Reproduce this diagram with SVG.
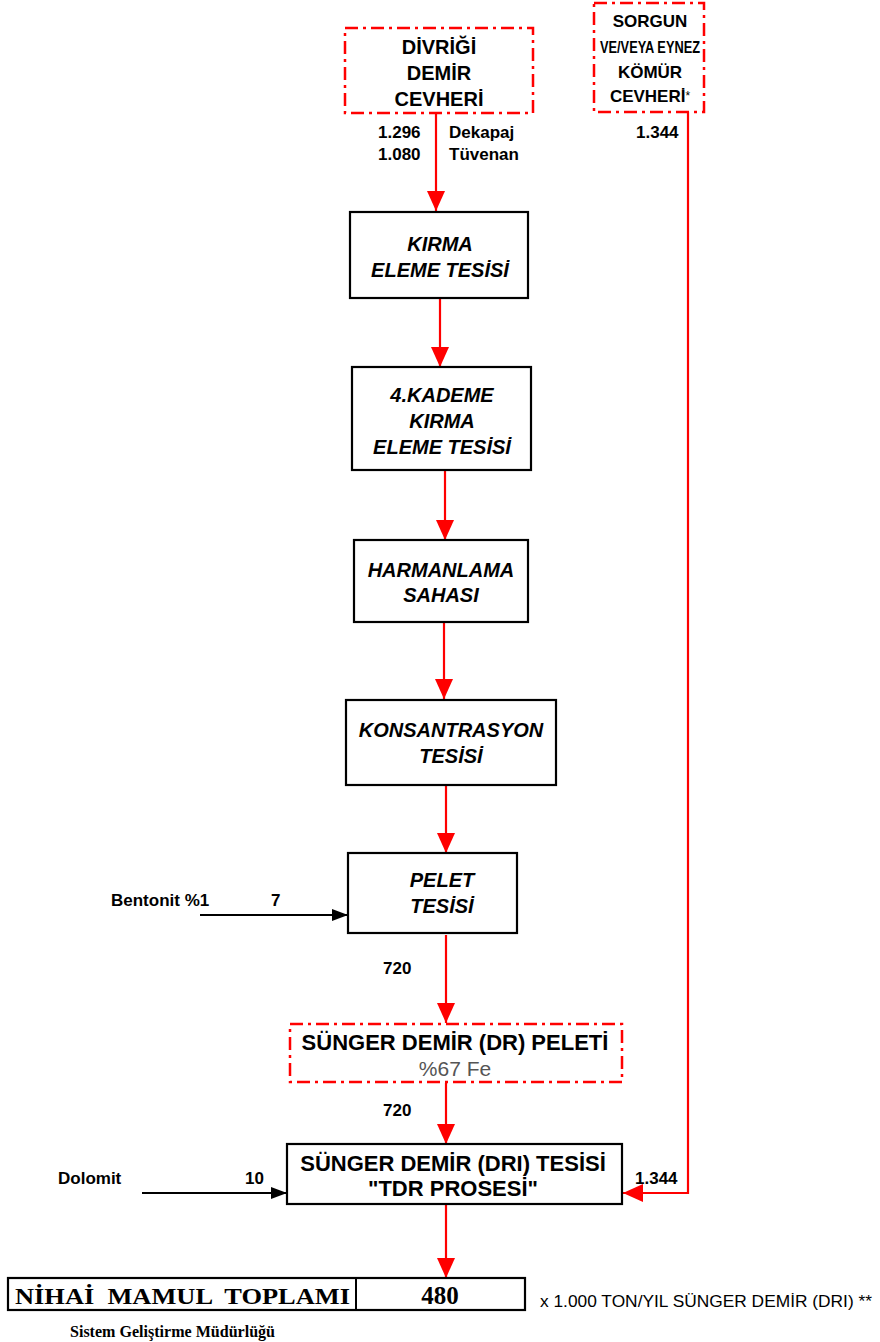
<svg xmlns="http://www.w3.org/2000/svg" width="880" height="1342" viewBox="0 0 880 1342">
<style>
.box{fill:#fff;stroke:#000;stroke-width:2.2}
.dbox{fill:#fff;stroke:#f00;stroke-width:2.5;stroke-dasharray:13 5 3 5}
.t{font-family:"Liberation Sans",Arial,sans-serif;font-weight:bold;font-size:20px;text-anchor:middle;fill:#000}
.ts{font-family:"Liberation Sans",Arial,sans-serif;font-weight:bold;font-size:17px;text-anchor:middle;fill:#000}
.ti{font-family:"Liberation Sans",Arial,sans-serif;font-weight:bold;font-style:italic;font-size:20px;text-anchor:middle;fill:#000}
.l{font-family:"Liberation Sans",Arial,sans-serif;font-weight:bold;font-size:17px;fill:#000}
.big{font-family:"Liberation Sans",Arial,sans-serif;font-weight:bold;font-size:22px;text-anchor:middle;fill:#000}
.red{fill:none;stroke:#f00;stroke-width:2.2}
.blk{fill:none;stroke:#000;stroke-width:2.2}
.tm{font-family:"Liberation Serif","Times New Roman",serif;font-weight:bold;fill:#000;white-space:pre}
</style>
<defs>
<marker id="ar" markerUnits="userSpaceOnUse" markerWidth="20" markerHeight="18" viewBox="0 0 20 18" refX="20" refY="9" orient="auto"><path d="M0,0 L20,9 L0,18 Z" fill="#f00"/></marker>
<marker id="ab" markerUnits="userSpaceOnUse" markerWidth="16" markerHeight="12" viewBox="0 0 16 12" refX="16" refY="6" orient="auto"><path d="M0,0 L16,6 L0,12 Z" fill="#000"/></marker>
</defs>
<g id="connectors">
<path class="red" d="M436,113 V211" marker-end="url(#ar)"/>
<path class="red" d="M440,298 V367" marker-end="url(#ar)"/>
<path class="red" d="M445,470 V540" marker-end="url(#ar)"/>
<path class="red" d="M444,622 V699" marker-end="url(#ar)"/>
<path class="red" d="M446,785 V853" marker-end="url(#ar)"/>
<path class="red" d="M446,935 V1023" marker-end="url(#ar)"/>
<path class="red" d="M446,1083 V1144" marker-end="url(#ar)"/>
<path class="red" d="M446,1204 V1278" marker-end="url(#ar)"/>
<path class="red" d="M688,112 V1193 H623" marker-end="url(#ar)"/>
<path class="blk" d="M200,915 H348" marker-end="url(#ab)"/>
<path class="blk" d="M142,1193 H287" marker-end="url(#ab)"/>
<text class="l" x="378" y="138">1.296</text>
<text class="l" x="378" y="160">1.080</text>
<text class="l" x="449" y="138">Dekapaj</text>
<text class="l" x="449" y="160">Tüvenan</text>
<text class="l" x="636" y="138">1.344</text>
<text class="l" x="111" y="906">Bentonit %1</text>
<text class="l" x="271" y="906">7</text>
<text class="l" x="383" y="974">720</text>
<text class="l" x="383" y="1116">720</text>
<text class="l" x="58" y="1184">Dolomit</text>
<text class="l" x="245" y="1184">10</text>
<text class="l" x="635" y="1184">1.344</text>
</g>
<g id="divrigi">
<rect class="dbox" x="345" y="28" width="188" height="85"/>
<text class="t" x="439" y="54">DİVRİĞİ</text>
<text class="t" x="439" y="80">DEMİR</text>
<text class="t" x="439" y="106">CEVHERİ</text>
</g>
<g id="sorgun">
<rect class="dbox" x="594" y="3" width="110" height="109"/>
<text class="ts" x="650" y="27">SORGUN</text>
<text class="ts" x="650" y="53" textLength="100" lengthAdjust="spacingAndGlyphs">VE/VEYA EYNEZ</text>
<text class="ts" x="650" y="78">KÖMÜR</text>
<text class="ts" x="650" y="102">CEVHERİ<tspan font-size="12" font-weight="normal" dy="-2">*</tspan></text>
</g>
<g id="kirma">
<rect class="box" x="350" y="212" width="178" height="86"/>
<text class="ti" x="440" y="251">KIRMA</text>
<text class="ti" x="440" y="277">ELEME TESİSİ</text>
</g>
<g id="kademe">
<rect class="box" x="352" y="367" width="179" height="103"/>
<text class="ti" x="442" y="402">4.KADEME</text>
<text class="ti" x="442" y="428">KIRMA</text>
<text class="ti" x="442" y="454">ELEME TESİSİ</text>
</g>
<g id="harmanlama">
<rect class="box" x="354" y="540" width="174" height="82"/>
<text class="ti" x="441" y="577">HARMANLAMA</text>
<text class="ti" x="441" y="602">SAHASI</text>
</g>
<g id="konsantrasyon">
<rect class="box" x="346" y="700" width="210" height="85"/>
<text class="ti" x="451" y="737">KONSANTRASYON</text>
<text class="ti" x="451" y="763">TESİSİ</text>
</g>
<g id="pelet">
<rect class="box" x="348" y="853" width="169" height="80"/>
<text class="ti" x="442" y="887">PELET</text>
<text class="ti" x="442" y="913">TESİSİ</text>
</g>
<g id="dr-peleti">
<rect class="dbox" x="290" y="1024" width="332" height="58"/>
<text class="big" x="455" y="1050">SÜNGER DEMİR (DR) PELETİ</text>
<text x="455" y="1076" font-family="Liberation Sans,Arial,sans-serif" font-size="21" text-anchor="middle" fill="#555">%67 Fe</text>
</g>
<g id="dri">
<rect class="box" x="287" y="1144" width="335" height="60"/>
<text class="big" x="453" y="1171">SÜNGER DEMİR (DRI) TESİSİ</text>
<text class="big" x="453" y="1196">"TDR PROSESİ"</text>
</g>
<g id="toplam">
<rect class="box" x="8" y="1278" width="517" height="32"/>
<line x1="356" y1="1278" x2="356" y2="1310" stroke="#000" stroke-width="2"/>
<text class="tm" x="15" y="1304" font-size="24" textLength="335" lengthAdjust="spacingAndGlyphs" xml:space="preserve">NİHAİ  MAMUL  TOPLAMI</text>
<text class="tm" x="440" y="1304" font-size="25" text-anchor="middle">480</text>
</g>
<text x="540" y="1307" font-family="Liberation Sans,Arial,sans-serif" font-size="17" fill="#000" textLength="332" lengthAdjust="spacingAndGlyphs">x 1.000 TON/YIL SÜNGER DEMİR (DRI) **</text>
<text class="tm" x="70" y="1337" font-size="16" textLength="205" lengthAdjust="spacingAndGlyphs">Sistem Geliştirme Müdürlüğü</text>
</svg>
